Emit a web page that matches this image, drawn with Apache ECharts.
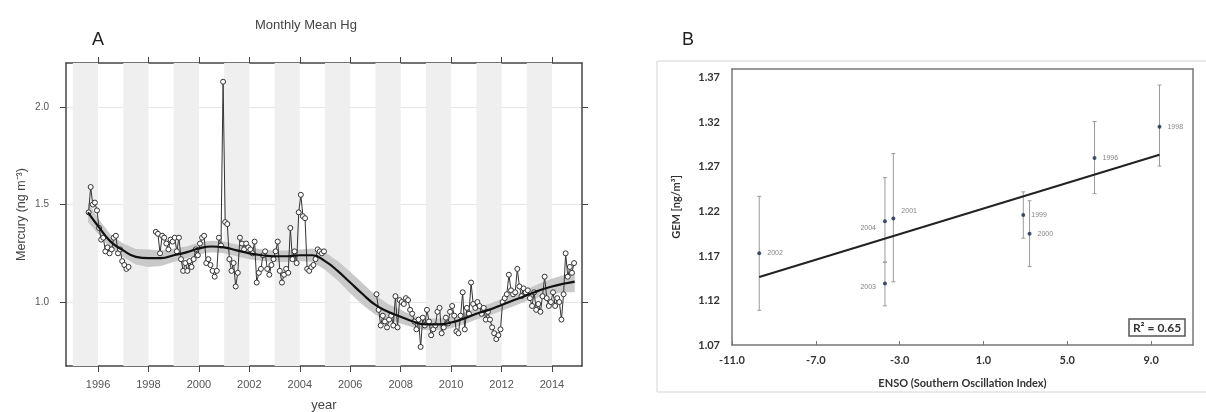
<!DOCTYPE html>
<html>
<head>
<meta charset="utf-8">
<script src="https://cdn.jsdelivr.net/npm/echarts@6/dist/echarts.min.js"></script>
<style>
html, body { margin: 0; padding: 0; background: #fff; }
#main { width: 1206px; height: 412px; }
</style>
</head>
<body>
<div id="main"></div>
<script>
// Panel A: monthly mean Hg (ng m-3), Jan..Dec, null = no data
var hg1995 = [null, null, null, null, null, null, null, 1.46, 1.59, 1.50, 1.51, 1.47];
var hg1996 = [1.38, 1.32, 1.33, 1.26, 1.28, 1.25, 1.27, 1.33, 1.34, 1.25, 1.27, 1.21];
var hg1997 = [1.19, 1.17, 1.18, null, null, null, null, null, null, null, null, null];
var hg1998 = [null, null, null, 1.36, 1.35, 1.25, 1.34, 1.33, 1.30, 1.27, 1.32, 1.31];
var hg1999 = [1.33, 1.26, 1.33, 1.22, 1.16, 1.20, 1.16, 1.21, 1.18, 1.22, 1.27, 1.24];
var hg2000 = [1.30, 1.33, 1.34, 1.20, 1.22, 1.19, 1.16, 1.13, 1.16, 1.33, 1.29, 2.13];
var hg2001 = [1.41, 1.40, 1.22, 1.16, 1.20, 1.08, 1.15, 1.33, 1.30, 1.27, 1.30, 1.28];
var hg2002 = [1.27, 1.25, 1.31, 1.10, 1.15, 1.17, 1.24, 1.26, 1.17, 1.14, 1.19, 1.22];
var hg2003 = [1.26, 1.31, 1.16, 1.10, 1.14, 1.17, 1.15, 1.38, 1.22, 1.26, 1.20, 1.46];
var hg2004 = [1.55, 1.44, 1.43, 1.17, 1.16, 1.18, 1.19, 1.22, 1.27, 1.26, 1.25, 1.26];
var hg2005 = [null, null, null, null, null, null, null, null, null, null, null, null];
var hg2006 = [null, null, null, null, null, null, null, null, null, null, null, null];
var hg2007 = [1.04, 0.96, 0.88, 0.93, 0.90, 0.87, 0.91, 0.93, 0.88, 1.03, 0.87, 1.01];
var hg2008 = [1.00, 0.99, 1.02, 1.01, 0.96, 0.94, 0.90, 0.86, 0.91, 0.77, 0.92, 0.88];
var hg2009 = [0.96, 0.90, 0.83, 0.86, 0.88, 0.95, 0.97, 0.84, 0.87, 0.92, 0.89, 0.95];
var hg2010 = [0.98, 0.93, 0.85, 0.84, 0.93, 1.05, 0.86, 0.97, 0.94, 1.10, 0.99, 0.97];
var hg2011 = [1.00, 0.98, 0.94, 0.97, 0.91, 0.95, 0.91, 0.87, 0.84, 0.81, 0.83, 0.86];
var hg2012 = [1.00, 1.02, 1.04, 1.14, 1.06, 1.04, 1.05, 1.17, 1.08, 1.03, 1.07, 1.05];
var hg2013 = [1.06, 1.02, 0.98, 1.05, 0.96, 0.99, 0.95, 1.03, 1.13, 1.02, 0.98, 1.00];
var hg2014 = [1.05, 0.98, 1.02, 1.00, 0.91, 1.04, 1.25, 1.13, 1.18, 1.15, 1.20, null];

var hgYears = [1995, 1996, 1997, 1998, 1999, 2000, 2001, 2002, 2003, 2004,
               2005, 2006, 2007, 2008, 2009, 2010, 2011, 2012, 2013, 2014];
var hgByYear = [hg1995, hg1996, hg1997, hg1998, hg1999, hg2000, hg2001, hg2002, hg2003, hg2004,
                hg2005, hg2006, hg2007, hg2008, hg2009, hg2010, hg2011, hg2012, hg2013, hg2014];

// smooth fit and its half-width (confidence band)
var smoothYears = [1995.6, 1996, 1996.5, 1997, 1997.5, 1998, 1998.5, 1999, 1999.5, 2000,
                   2000.5, 2001, 2001.5, 2002, 2002.5, 2003, 2003.5, 2004, 2004.5, 2005,
                   2005.5, 2006, 2006.5, 2007, 2007.5, 2008, 2008.5, 2009, 2009.5, 2010,
                   2010.5, 2011, 2011.5, 2012, 2012.5, 2013, 2013.5, 2014, 2014.5, 2014.9];
var smoothFit = [1.46, 1.39, 1.31, 1.265, 1.232, 1.225, 1.225, 1.24, 1.255, 1.275,
                 1.285, 1.28, 1.265, 1.25, 1.24, 1.235, 1.235, 1.24, 1.24, 1.21,
                 1.16, 1.10, 1.04, 0.985, 0.95, 0.925, 0.9, 0.885, 0.885, 0.895,
                 0.915, 0.94, 0.96, 0.985, 1.01, 1.035, 1.06, 1.08, 1.095, 1.105];
var smoothSe = [0.05, 0.04, 0.035, 0.035, 0.04, 0.045, 0.04, 0.035, 0.03, 0.03,
                0.03, 0.03, 0.03, 0.03, 0.03, 0.03, 0.03, 0.03, 0.035, 0.045,
                0.05, 0.055, 0.055, 0.05, 0.04, 0.035, 0.03, 0.03, 0.03, 0.03,
                0.03, 0.03, 0.03, 0.03, 0.03, 0.03, 0.035, 0.04, 0.045, 0.055];

var yearTicks = [1996, 1998, 2000, 2002, 2004, 2006, 2008, 2010, 2012, 2014];
var hgTicks = [1.0, 1.5, 2.0];

// Panel B: GEM vs ENSO
var ensoYears = ['2002', '2004', '2003', '2001', '1999', '2000', '1996', '1998'];
var ensoIndex = [-9.7, -3.7, -3.7, -3.3, 2.9, 3.2, 6.3, 9.4];
var gemMean = [1.173, 1.209, 1.139, 1.212, 1.216, 1.195, 1.280, 1.315];
var gemLow  = [1.109, 1.163, 1.114, 1.141, 1.190, 1.158, 1.240, 1.271];
var gemHigh = [1.237, 1.258, 1.163, 1.285, 1.242, 1.232, 1.321, 1.362];
var ensoTicks = [-11, -7, -3, 1, 5, 9];
var gemTicks = [1.07, 1.12, 1.17, 1.22, 1.27, 1.32, 1.37];
var rSquared = '0.65';

// build monthly points
var hgPoints = [];
for (var i = 0; i < hgYears.length; i++) {
    for (var m = 0; m < 12; m++) {
        var v = hgByYear[i][m];
        hgPoints.push([hgYears[i] + (m + 0.5) / 12, v == null ? '-' : v]);
    }
}
var fitLine = [];
for (var k = 0; k < smoothYears.length; k++) {
    fitLine.push([smoothYears[k], smoothFit[k]]);
}
// alternate year shading
var stripes = [];
for (var y = 1995; y < 2015; y += 2) {
    stripes.push([{ xAxis: y }, { xAxis: y + 1 }]);
}

// linear regression for panel B
var n = ensoIndex.length, sx = 0, sy = 0;
for (var j = 0; j < n; j++) { sx += ensoIndex[j]; sy += gemMean[j]; }
var mx = sx / n, my = sy / n, sxy = 0, sxx = 0;
for (j = 0; j < n; j++) {
    sxy += (ensoIndex[j] - mx) * (gemMean[j] - my);
    sxx += (ensoIndex[j] - mx) * (ensoIndex[j] - mx);
}
var slope = sxy / sxx, icpt = my - slope * mx;
var xLo = Math.min.apply(null, ensoIndex), xHi = Math.max.apply(null, ensoIndex);
var regLine = [[xLo, icpt + slope * xLo], [xHi, icpt + slope * xHi]];

var labelOffset = { '2004': [-1, 7], '2003': [-1, 3], '2001': [0, -8] };
var leftLabels = { '2004': true, '2003': true };
var gemPoints = ensoIndex.map(function (x, i) {
    var yr = ensoYears[i];
    return {
        name: yr,
        value: [x, gemMean[i]],
        label: {
            position: leftLabels[yr] ? 'left' : 'right',
            offset: labelOffset[yr] || [0, 0]
        }
    };
});
var errBars = ensoIndex.map(function (x, i) { return [x, gemLow[i], gemHigh[i]]; });

var chart = echarts.init(document.getElementById('main'));
var fontA = '"Liberation Sans", Arial, sans-serif';
var fontB = 'Lato, "Open Sans", sans-serif';

var frameA = { show: true, onZero: false, lineStyle: { color: '#444', width: 1.5 } };
var frameB = { show: true, onZero: false, lineStyle: { color: '#777', width: 1.5 } };

var option = {
    backgroundColor: '#ffffff',
    animation: false,
    title: {
        text: 'Monthly Mean Hg',
        left: 250, top: 14,
        textStyle: { fontFamily: fontA, fontSize: 13, fontWeight: 'normal', color: '#444' }
    },
    graphic: [
        { type: 'text', left: 92, top: 31, style: { text: 'A', font: '18px ' + fontA, fill: '#222' } },
        { type: 'text', left: 682, top: 31, style: { text: 'B', font: '18px ' + fontA, fill: '#222' } },
        { type: 'rect', shape: { x: 657, y: 61, width: 560, height: 331 },
          style: { fill: 'none', stroke: '#d4d4d4', lineWidth: 1 }, z: -1 },
        { type: 'rect', shape: { x: 1129, y: 319, width: 56, height: 17 },
          style: { fill: '#fff', stroke: '#555', lineWidth: 1.5 }, z: 10 },
        { type: 'text', x: 1157, y: 328, z: 11,
          style: { text: 'R² = ' + rSquared, font: 'bold 12px ' + fontB, fill: '#333',
                   textAlign: 'center', textVerticalAlign: 'middle' } }
    ],
    grid: [
        { left: 66, top: 63, right: 624, bottom: 46, containLabel: false, outerBoundsMode: 'none' },
        { left: 732, top: 69, right: 13, bottom: 67, containLabel: false, outerBoundsMode: 'none' }
    ],
    xAxis: [
        {
            gridIndex: 0, type: 'value', min: 1994.73, max: 2015.19, position: 'bottom',
            name: 'year', nameLocation: 'middle', nameGap: 33,
            nameTextStyle: { fontFamily: fontA, fontSize: 13, color: '#444' },
            axisLine: frameA,
            axisTick: { show: true, length: 6, customValues: yearTicks, lineStyle: { color: '#444' } },
            axisLabel: {
                customValues: yearTicks, fontFamily: fontA, fontSize: 11, color: '#555', margin: 13,
                formatter: function (v) { return String(v); }
            },
            splitLine: { show: false }
        },
        {
            gridIndex: 0, type: 'value', min: 1994.73, max: 2015.19, position: 'top',
            axisLine: frameA,
            axisTick: { show: true, length: 6, customValues: yearTicks, lineStyle: { color: '#444' } },
            axisLabel: { show: false },
            splitLine: { show: false }
        },
        {
            gridIndex: 1, type: 'value', min: -11, max: 11, position: 'bottom',
            name: 'ENSO (Southern Oscillation Index)', nameLocation: 'middle', nameGap: 33,
            nameTextStyle: { fontFamily: fontB, fontSize: 11, fontWeight: 'bold', color: '#333' },
            axisLine: frameB,
            axisTick: { show: true, inside: true, length: 4, customValues: ensoTicks, lineStyle: { color: '#777' } },
            axisLabel: {
                customValues: ensoTicks, fontFamily: fontB, fontSize: 11, fontWeight: 'bold', color: '#333', margin: 10,
                formatter: function (v) { return v.toFixed(1); }
            },
            splitLine: { show: false }
        },
        {
            gridIndex: 1, type: 'value', min: -11, max: 11, position: 'top',
            axisLine: frameB,
            axisTick: { show: false }, axisLabel: { show: false }, splitLine: { show: false }
        }
    ],
    yAxis: [
        {
            gridIndex: 0, type: 'value', min: 0.672, max: 2.226, position: 'left',
            name: 'Mercury (ng m⁻³)', nameLocation: 'middle', nameGap: 38,
            nameTextStyle: { fontFamily: fontA, fontSize: 12.5, color: '#444' },
            axisLine: frameA,
            axisTick: { show: true, length: 6, customValues: hgTicks, lineStyle: { color: '#444' } },
            axisLabel: {
                customValues: hgTicks, fontFamily: fontA, fontSize: 10, color: '#555', margin: 17,
                formatter: function (v) { return v.toFixed(1); }
            },
            splitLine: { show: true, lineStyle: { color: '#e6e6e6', width: 1 } }
        },
        {
            gridIndex: 0, type: 'value', min: 0.672, max: 2.226, position: 'right',
            axisLine: frameA,
            axisTick: { show: true, length: 6, customValues: hgTicks, lineStyle: { color: '#444' } },
            axisLabel: { show: false },
            splitLine: { show: false }
        },
        {
            gridIndex: 1, type: 'value', min: 1.07, max: 1.38, position: 'left',
            name: 'GEM [ng/m³]', nameLocation: 'middle', nameGap: 50,
            nameTextStyle: { fontFamily: fontB, fontSize: 11, fontWeight: 'bold', color: '#333' },
            axisLine: frameB,
            axisTick: { show: false },
            axisLabel: {
                customValues: gemTicks, fontFamily: fontB, fontSize: 11, fontWeight: 'bold', color: '#333', margin: 12,
                formatter: function (v) { return v.toFixed(2); }
            },
            splitLine: { show: false }
        },
        {
            gridIndex: 1, type: 'value', min: 1.07, max: 1.38, position: 'right',
            axisLine: frameB,
            axisTick: { show: false }, axisLabel: { show: false }, splitLine: { show: false }
        }
    ],
    series: [
        {
            // confidence band around the smooth fit
            name: 'band', type: 'custom', xAxisIndex: 0, yAxisIndex: 0, z: 2,
            data: [[smoothYears[0], smoothFit[0]]], silent: true,
            renderItem: function (params, api) {
                var upper = [], lower = [];
                for (var q = 0; q < smoothYears.length; q++) {
                    upper.push(api.coord([smoothYears[q], smoothFit[q] + smoothSe[q]]));
                    lower.unshift(api.coord([smoothYears[q], smoothFit[q] - smoothSe[q]]));
                }
                return {
                    type: 'polygon',
                    shape: { points: upper.concat(lower) },
                    style: { fill: '#c9c9c9', stroke: 'none' }
                };
            },
            markArea: {
                silent: true,
                itemStyle: { color: '#efefef' },
                data: stripes
            }
        },
        {
            name: 'monthly', type: 'line', xAxisIndex: 0, yAxisIndex: 0, z: 3,
            data: hgPoints, connectNulls: false,
            symbol: 'circle', symbolSize: 5,
            itemStyle: { color: '#ffffff', borderColor: '#333', borderWidth: 1 },
            lineStyle: { color: '#333', width: 1 }
        },
        {
            name: 'fit', type: 'line', xAxisIndex: 0, yAxisIndex: 0, z: 4,
            data: fitLine, smooth: true, symbol: 'none',
            lineStyle: { color: '#111', width: 2.2 }
        },
        {
            name: 'errors', type: 'custom', xAxisIndex: 2, yAxisIndex: 2, z: 2,
            data: errBars, encode: { x: 0, y: [1, 2] },
            renderItem: function (params, api) {
                var x = api.value(0);
                var lo = api.coord([x, api.value(1)]);
                var hi = api.coord([x, api.value(2)]);
                var st = { stroke: '#9a9a9a', lineWidth: 1 };
                return {
                    type: 'group',
                    children: [
                        { type: 'line', shape: { x1: lo[0], y1: lo[1], x2: hi[0], y2: hi[1] }, style: st },
                        { type: 'line', shape: { x1: lo[0] - 2, y1: lo[1], x2: lo[0] + 2, y2: lo[1] }, style: st },
                        { type: 'line', shape: { x1: hi[0] - 2, y1: hi[1], x2: hi[0] + 2, y2: hi[1] }, style: st }
                    ]
                };
            }
        },
        {
            name: 'regression', type: 'line', xAxisIndex: 2, yAxisIndex: 2, z: 3,
            data: regLine, symbol: 'none',
            lineStyle: { color: '#222', width: 2 }
        },
        {
            name: 'gem', type: 'scatter', xAxisIndex: 2, yAxisIndex: 2, z: 4,
            data: gemPoints, symbolSize: 4,
            itemStyle: { color: '#17284a' },
            label: {
                show: true, formatter: '{b}', distance: 6,
                fontFamily: fontA, fontSize: 7, color: '#666'
            }
        }
    ]
};

chart.setOption(option);
</script>
</body>
</html>
